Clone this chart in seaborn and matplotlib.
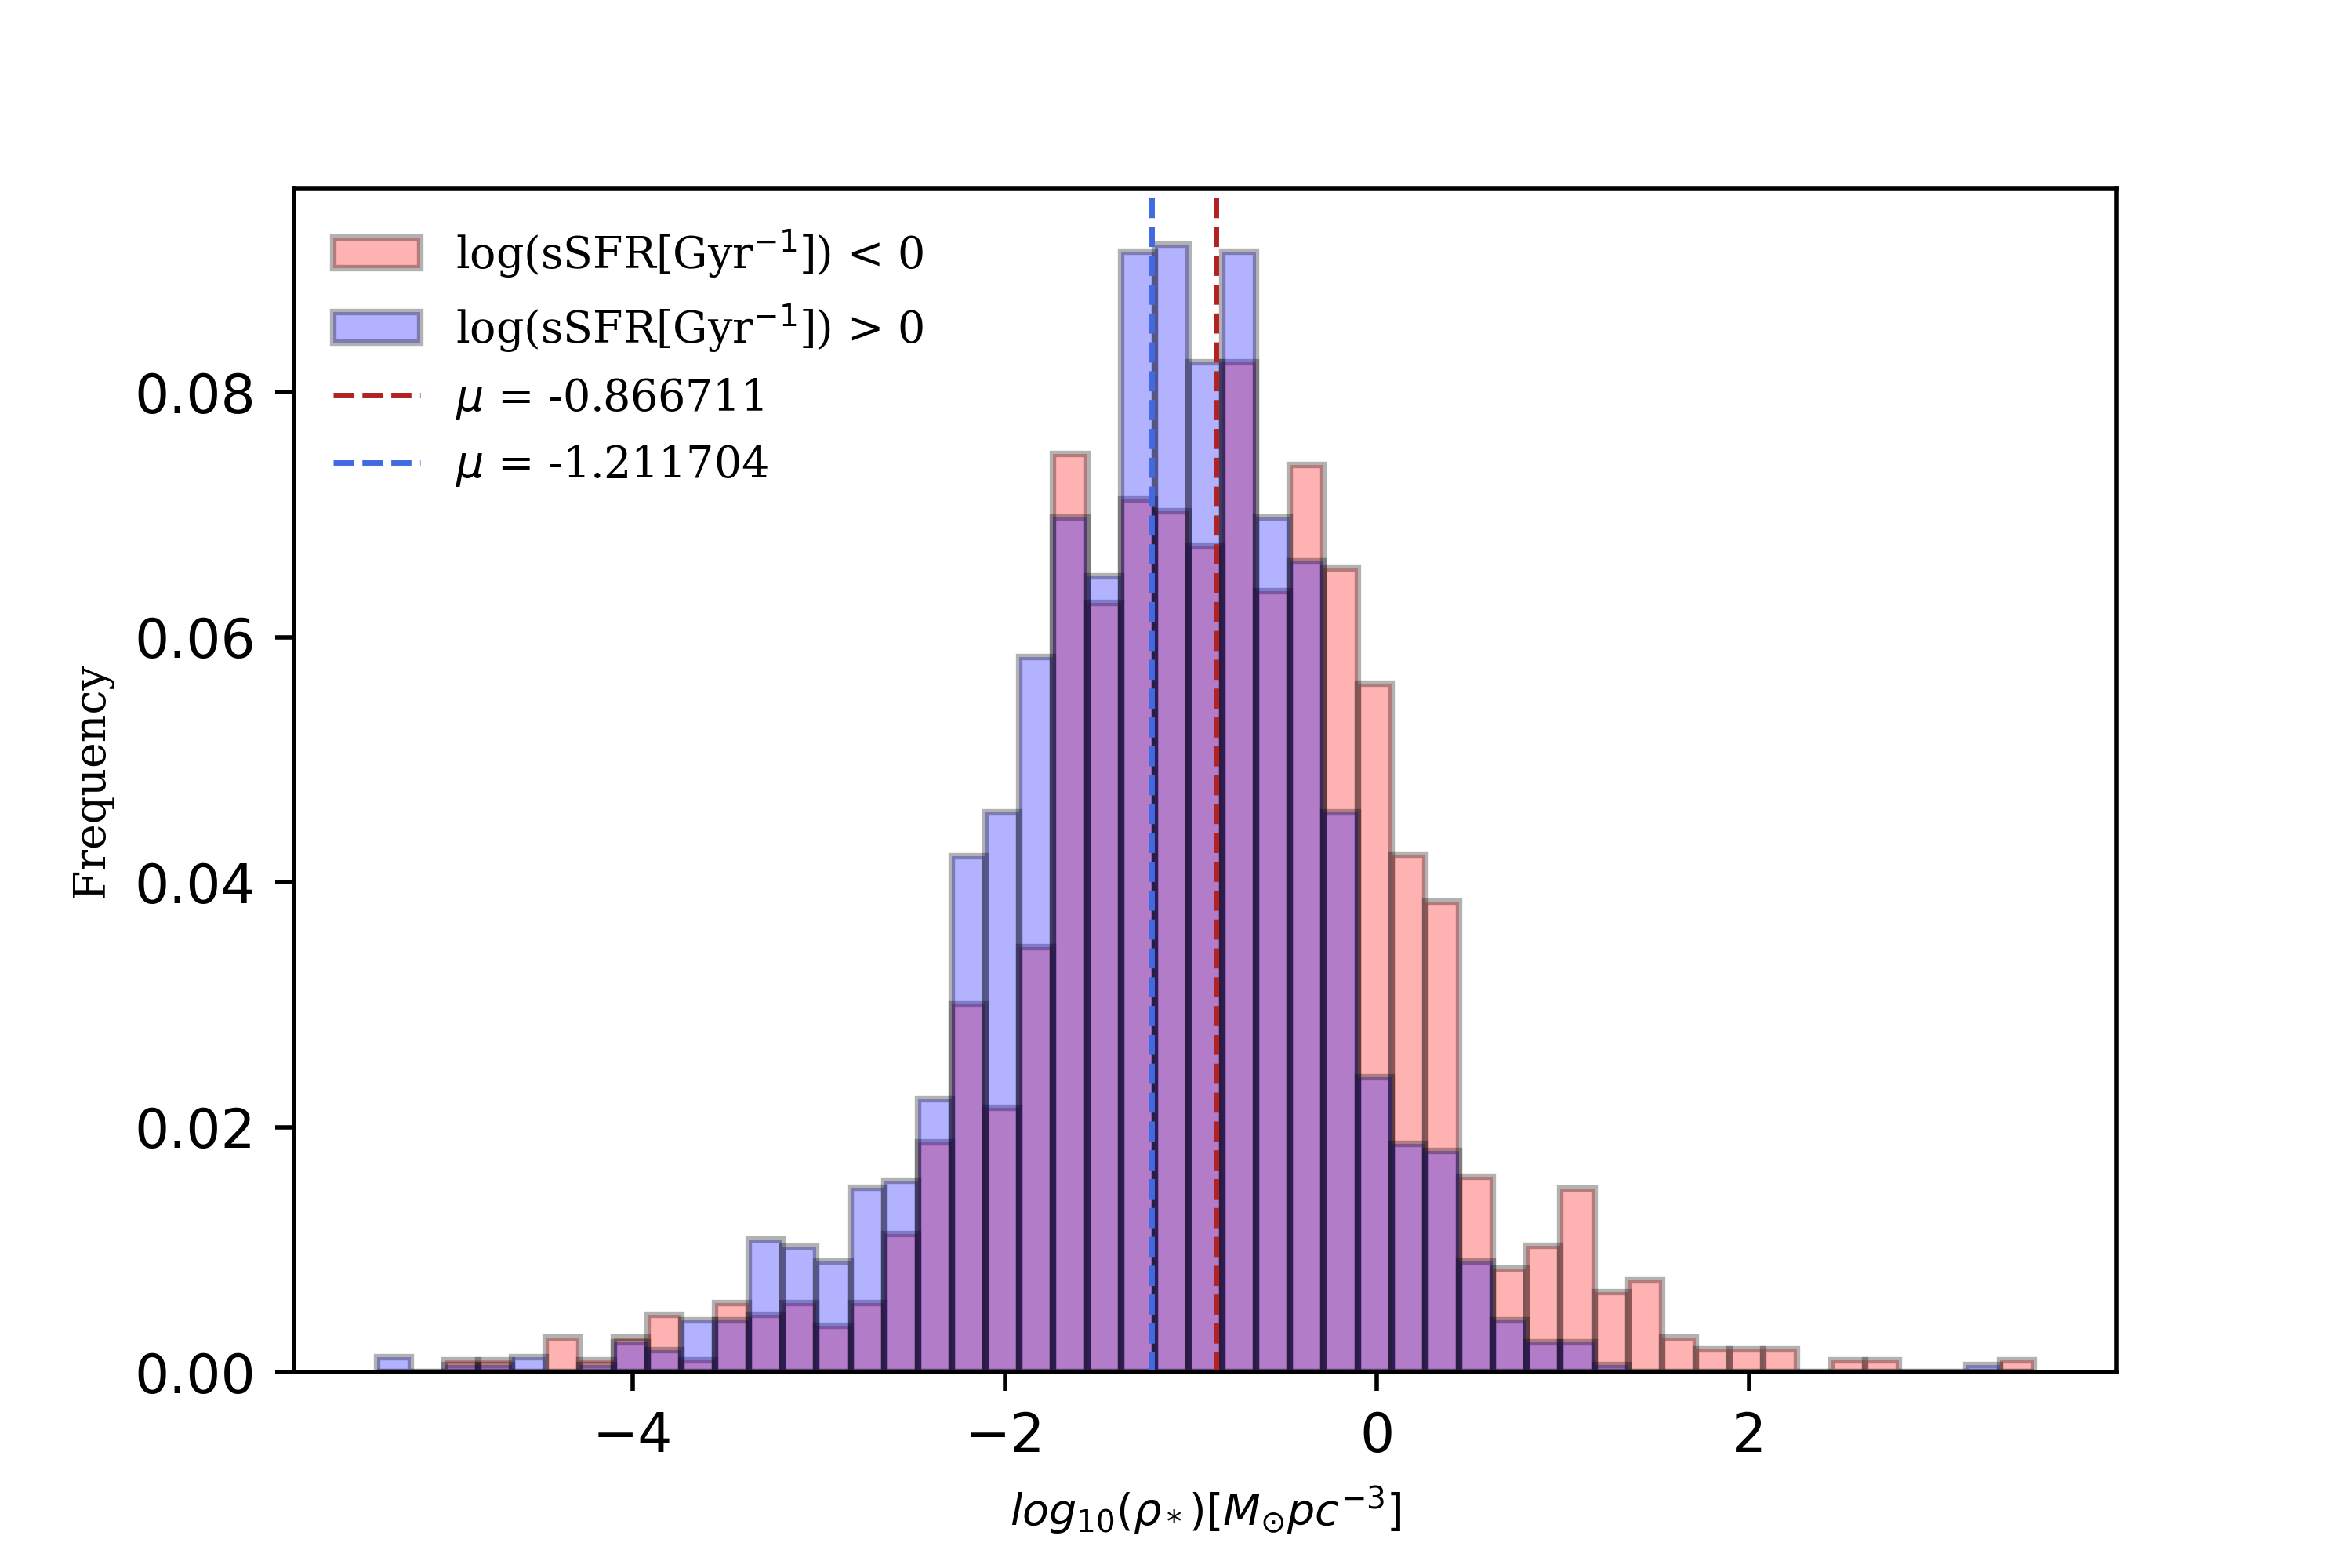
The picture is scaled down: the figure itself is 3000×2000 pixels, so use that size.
import numpy as np
import seaborn as sns
import matplotlib.pyplot as plt
from matplotlib.patches import Patch
from matplotlib.lines import Line2D

# common bins: 49 bins between min and max of both samples
x_min = -5.377
x_max = 3.533
n_bins = 49

# counts per bin, low sSFR (red) and high sSFR (blue)
counts_low = [0, 0, 1, 1, 0, 3, 1, 3, 5, 1,
              6, 5, 6, 4, 6, 12, 20, 32, 23, 37,
              80, 67, 76, 75, 72, 88, 68, 79, 70, 60,
              45, 41, 17, 9, 11, 16, 7, 8, 3, 2,
              2, 2, 0, 1, 1, 0, 0, 0, 1]
counts_high = [2, 0, 1, 1, 2, 0, 1, 4, 3, 7,
               7, 18, 17, 15, 25, 26, 37, 70, 76, 97,
               116, 108, 152, 153, 137, 152, 116, 110, 76, 40,
               31, 30, 15, 7, 4, 4, 1, 0, 0, 0,
               0, 0, 0, 0, 0, 0, 0, 1, 0]

mu_low = -0.866711
mu_high = -1.211704

labels = ['log(sSFR[Gyr$^{-1}$]) < 0', 'log(sSFR[Gyr$^{-1}$]) > 0',
          '$\\mu$ = %f' % mu_low, '$\\mu$ = %f' % mu_high]

edges = np.linspace(x_min, x_max, n_bins + 1)
centers = 0.5 * (edges[:-1] + edges[1:])
bins = list(edges)

fig, ax = plt.subplots(figsize=(6, 4), dpi=500)
fig.subplots_adjust(left=0.125, right=0.9, top=0.88, bottom=0.125)

edge_kw = dict(edgecolor=(0, 0, 0, 0.3), linewidth=1.2)
sns.histplot(x=centers, weights=counts_low, bins=bins, stat='probability',
             color='red', alpha=0.3, ax=ax, **edge_kw)
sns.histplot(x=centers, weights=counts_high, bins=bins, stat='probability',
             color='blue', alpha=0.3, ax=ax, **edge_kw)

ax.axvline(mu_low, color='firebrick', ls='--', lw=1)
ax.axvline(mu_high, color='royalblue', ls='--', lw=1)

handles = [Patch(facecolor=(1, 0, 0, 0.3), **edge_kw),
           Patch(facecolor=(0, 0, 1, 0.3), **edge_kw),
           Line2D([], [], color='firebrick', ls='--', lw=1),
           Line2D([], [], color='royalblue', ls='--', lw=1)]
ax.legend(handles, labels, loc='upper left', frameon=False,
          prop={'family': 'serif', 'size': 8})

ax.set_xlabel(r'$log_{10}(\rho_*) [M_{\odot} pc^{-3}]$', fontsize=8)
ax.set_ylabel('Frequency', family='serif', fontsize=8)

fig.savefig('out.png', dpi=500)
